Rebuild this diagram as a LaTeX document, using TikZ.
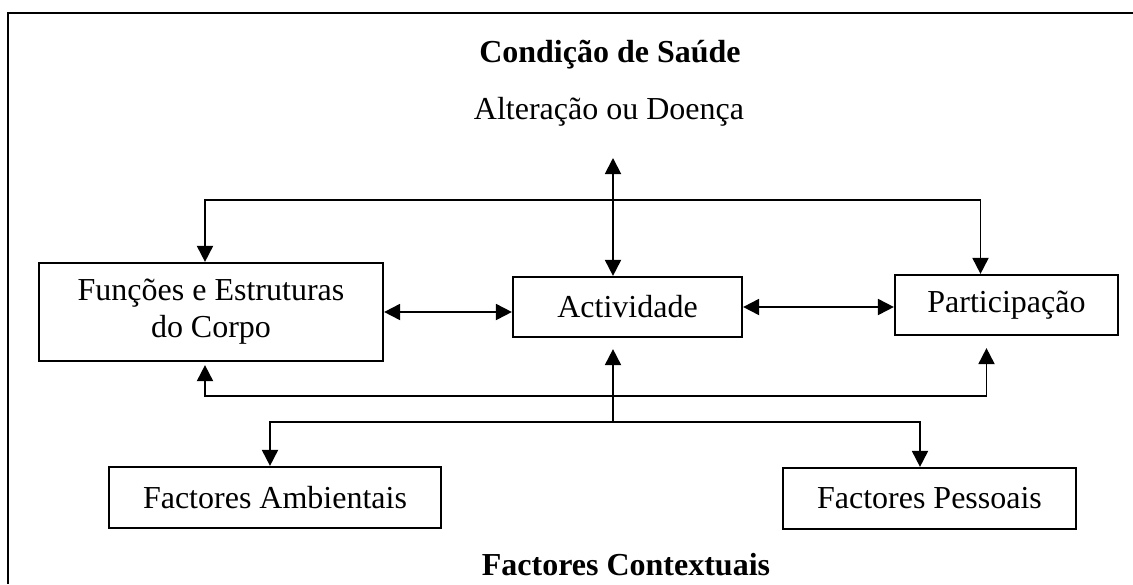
\documentclass[tikz,border=0pt]{standalone}
\usepackage{fontspec}
\setmainfont{Liberation Serif}
\usetikzlibrary{positioning,arrows.meta,calc}

\begin{document}
\begin{tikzpicture}[x=1pt,y=-1pt,
    txt/.style={font=\fontsize{32}{37}\selectfont, inner sep=0pt},
    box/.style={txt, draw, line width=2.2pt, align=center},
    conn/.style={line width=1.9pt},
    arr/.style={conn, -{Triangle[length=16pt,width=16pt]}},
    dblarr/.style={conn, {Triangle[length=16pt,width=16pt]}-{Triangle[length=16pt,width=16pt]}}]
        \useasboundingbox (0,0) rectangle (1133,584);
        \draw[line width=2.6pt] (1133,13) -- (8,13) -- (8,584);
        % texts
        \node[txt, font=\fontsize{32}{37}\selectfont\bfseries] (cond) at (610,55) {Condição de Saúde};
        \node[txt] (alt) at (609,112) {Alteração ou Doença};
        \node[txt, font=\fontsize{32}{37}\selectfont\bfseries] (ctx) at (626,565) {Factores Contextuais};
        % boxes
        \node[box, minimum width=344pt, minimum height=98pt] (fun) at (211,312) {Funções e Estruturas\\do Corpo};
        \node[box, minimum width=229pt, minimum height=60pt] (act) at (627.5,307) {Actividade};
        \node[box, minimum width=223pt, minimum height=60pt] (par) at (1006.5,305) {Participação};
        \node[box, minimum width=332pt, minimum height=61pt] (amb) at (275,497.5) {Factores Ambientais};
        \node[box, minimum width=293pt, minimum height=61pt] (pes) at (929.5,498.5) {Factores Pessoais};
        % connectors
        \coordinate (alttip) at (613,158);
        \coordinate (topbus) at (613,200);
        \coordinate (midbus) at (613,396);
        \coordinate (lowbus) at (613,422);
        \draw[dblarr] (alttip) -- (alttip |- act.north);
        \draw[arr] (topbus) -| ([xshift=-6pt]fun.north);
        \draw[arr] (topbus) -| ([xshift=-26pt]par.north);
        \draw[dblarr] (fun.east) -- (fun.east -| act.west);
        \draw[dblarr] (act.east) -- (act.east -| par.west);
        \draw[arr, shorten >=3pt] (midbus) -| ([xshift=-6pt]fun.south);
        \draw[arr, shorten >=12pt] (midbus) -| ([xshift=-20pt]par.south);
        \draw[arr, shorten >=11pt] (lowbus) -- (lowbus |- act.south);
        \draw[arr] (lowbus) -| ([xshift=-5pt]amb.north);
        \draw[arr] (lowbus) -| ([xshift=-9.5pt]pes.north);
\end{tikzpicture}
\end{document}
